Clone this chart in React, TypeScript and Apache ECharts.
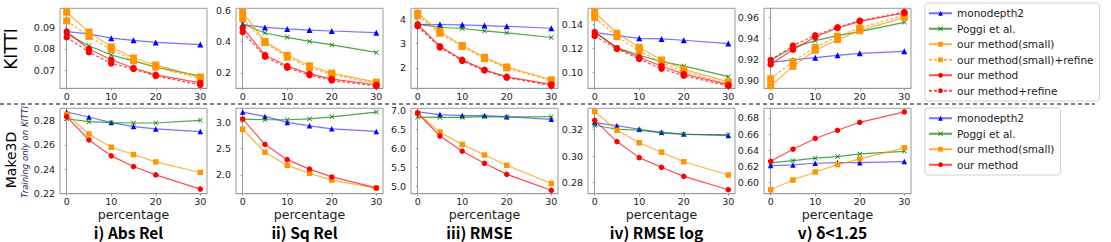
import React, { useEffect, useRef } from "react";
import * as echarts from "echarts";

const percentages = [0, 5, 10, 15, 20, 30];
const metricTitles = ["i) Abs Rel", "ii) Sq Rel", "iii) RMSE", "iv) RMSE log", "v) δ<1.25"];

// KITTI rows: one array per metric (Abs Rel, Sq Rel, RMSE, RMSE log, δ<1.25)
const kittiMonodepth2 = [
  [0.088, 0.087, 0.085, 0.084, 0.083, 0.082],
  [0.51, 0.492, 0.482, 0.475, 0.469, 0.458],
  [3.79, 3.78, 3.77, 3.74, 3.71, 3.63],
  [0.1333, 0.1306, 0.1283, 0.1278, 0.1267, 0.1239],
  [0.9171, 0.9194, 0.9216, 0.9238, 0.9257, 0.9276],
];
const kittiPoggi = [
  [0.087, 0.0815, 0.0772, 0.0745, 0.0716, 0.0674],
  [0.514, 0.456, 0.428, 0.402, 0.379, 0.331],
  [3.79, 3.67, 3.62, 3.52, 3.44, 3.25],
  [0.1333, 0.1206, 0.1142, 0.1089, 0.1053, 0.0964],
  [0.9194, 0.931, 0.9378, 0.9425, 0.9463, 0.9552],
];
const kittiSmall = [
  [0.097, 0.0878, 0.081, 0.0758, 0.0726, 0.067],
  [0.589, 0.402, 0.312, 0.245, 0.198, 0.14],
  [4.25, 3.49, 2.92, 2.44, 2.04, 1.51],
  [0.15, 0.1325, 0.1208, 0.1103, 0.1025, 0.092],
  [0.8949, 0.9133, 0.9286, 0.9387, 0.9473, 0.96],
];
const kittiSmallRefine = [
  [0.093, 0.0858, 0.0797, 0.0746, 0.0716, 0.0662],
  [0.55, 0.394, 0.3, 0.234, 0.189, 0.131],
  [4.15, 3.42, 2.88, 2.38, 2.0, 1.47],
  [0.1456, 0.1297, 0.118, 0.108, 0.1006, 0.0903],
  [0.9016, 0.9178, 0.9314, 0.9419, 0.9498, 0.9622],
];
const kittiOurs = [
  [0.088, 0.08, 0.075, 0.0712, 0.068, 0.0643],
  [0.49, 0.314, 0.243, 0.194, 0.159, 0.123],
  [3.79, 2.89, 2.33, 1.92, 1.63, 1.32],
  [0.1336, 0.12, 0.1125, 0.1053, 0.0986, 0.0897],
  [0.9152, 0.9292, 0.9413, 0.9498, 0.9562, 0.9641],
];
const kittiOursRefine = [
  [0.0854, 0.0785, 0.0733, 0.0707, 0.0675, 0.0634],
  [0.462, 0.303, 0.232, 0.185, 0.15, 0.114],
  [3.71, 2.84, 2.29, 1.89, 1.6, 1.27],
  [0.1303, 0.1194, 0.1111, 0.103, 0.0972, 0.0886],
  [0.9194, 0.933, 0.9429, 0.9505, 0.9568, 0.965],
];

// Make3D rows
const make3dMonodepth2 = [
  [0.2871, 0.283, 0.2784, 0.2751, 0.2732, 0.271],
  [3.197, 3.115, 3.0, 2.936, 2.879, 2.828],
  [6.956, 6.885, 6.859, 6.86, 6.83, 6.76],
  [0.3253, 0.323, 0.3203, 0.318, 0.3167, 0.3155],
  [0.6208, 0.6216, 0.6237, 0.6245, 0.6245, 0.6258],
];
const make3dPoggi = [
  [0.2816, 0.2792, 0.2784, 0.2781, 0.2781, 0.2803],
  [3.064, 3.051, 3.051, 3.07, 3.108, 3.197],
  [6.82, 6.81, 6.81, 6.83, 6.82, 6.83],
  [0.3233, 0.3203, 0.3197, 0.3175, 0.3165, 0.3162],
  [0.6241, 0.627, 0.63, 0.632, 0.6353, 0.6386],
];
const make3dSmall = [
  [0.2852, 0.269, 0.2581, 0.2521, 0.246, 0.2373],
  [2.87, 2.43, 2.18, 2.03, 1.9, 1.745],
  [6.92, 6.42, 6.1, 5.82, 5.55, 5.07],
  [0.3336, 0.3195, 0.3101, 0.303, 0.2958, 0.2858],
  [0.5909, 0.6029, 0.6129, 0.6221, 0.6292, 0.6429],
];
const make3dOurs = [
  [0.2833, 0.2641, 0.251, 0.2422, 0.2353, 0.2236],
  [3.064, 2.58, 2.29, 2.11, 1.96, 1.75],
  [6.92, 6.32, 5.92, 5.6, 5.31, 4.89],
  [0.327, 0.311, 0.2989, 0.2916, 0.2848, 0.2747],
  [0.6262, 0.6412, 0.6545, 0.6647, 0.6746, 0.6875],
];

// axis ranges and ticks
const kittiYMin = [0.0618, 0.1, 1.16, 0.0867, 0.8924];
const kittiYMax = [0.0988, 0.615, 4.45, 0.1533, 0.9686];
const kittiYTicks = [
  [0.07, 0.08, 0.09],
  [0.2, 0.4, 0.6],
  [2, 3, 4],
  [0.1, 0.12, 0.14],
  [0.9, 0.92, 0.94, 0.96],
];
const kittiYDecimals = [2, 1, 0, 2, 2];
const make3dYMin = [0.2198, 1.64, 4.8, 0.2717, 0.5859];
const make3dYMax = [0.2902, 3.27, 7.05, 0.3361, 0.692];
const make3dYTicks = [
  [0.22, 0.24, 0.26, 0.28],
  [2.0, 2.5, 3.0],
  [5.0, 5.5, 6.0, 6.5, 7.0],
  [0.28, 0.3, 0.32],
  [0.6, 0.62, 0.64, 0.66, 0.68],
];
const make3dYDecimals = [2, 1, 1, 2, 2];
const xTicks = [0, 10, 20, 30];

const BLUE = "#0000ff";
const GREEN = "#008000";
const ORANGE = "#ff9500";
const RED = "#ff0000";
const X_SYMBOL = "path://M1,0L5,4L9,0L10,1L6,5L10,9L9,10L5,6L1,10L0,9L4,5L0,1Z";

const panelLefts = [60, 236, 411, 588, 764];
const panelWidth = 147;

export default function App() {
  const ref = useRef<HTMLDivElement>(null);
  useEffect(() => {
    if (!ref.current) return;
    const chart = echarts.init(ref.current, null, { renderer: "svg" });

    const grids: any[] = [];
    const xAxes: any[] = [];
    const yAxes: any[] = [];
    const series: any[] = [];

    const axisLine = { show: true, lineStyle: { color: "#999", width: 1 } };
    const tickLabel = { fontFamily: "DejaVu Sans", fontSize: 9.5, color: "#222" };

    const addPanel = (row: number, col: number) => {
      const idx = grids.length;
      const top = row === 0 ? 8.3 : 108.3;
      const height = row === 0 ? 80 : 85.4;
      grids.push({
        left: panelLefts[col],
        top,
        width: panelWidth,
        height,
        show: true,
        borderColor: "#999",
        borderWidth: 1,
        backgroundColor: "transparent",
      });
      xAxes.push({
        type: "value",
        gridIndex: idx,
        min: -1.5,
        max: 31.5,
        axisLine,
        splitLine: { show: false },
        axisTick: { show: true, length: 2, lineStyle: { color: "#999" }, customValues: xTicks },
        axisLabel: { ...tickLabel, margin: 3, customValues: xTicks },
        name: row === 1 ? "percentage" : "",
        nameLocation: "middle",
        nameGap: 9,
        nameTextStyle: {
          fontFamily: "DejaVu Sans",
          fontSize: 12.6,
          color: "#222",
          verticalAlign: "top",
          lineHeight: 13,
        },
      });
      const yMin = row === 0 ? kittiYMin[col] : make3dYMin[col];
      const yMax = row === 0 ? kittiYMax[col] : make3dYMax[col];
      const ticks = row === 0 ? kittiYTicks[col] : make3dYTicks[col];
      const dec = row === 0 ? kittiYDecimals[col] : make3dYDecimals[col];
      yAxes.push({
        type: "value",
        gridIndex: idx,
        min: yMin,
        max: yMax,
        axisLine,
        splitLine: { show: false },
        axisTick: { show: true, length: 2, lineStyle: { color: "#999" }, customValues: ticks },
        axisLabel: {
          ...tickLabel,
          margin: 5,
          customValues: ticks,
          formatter: (v: number) => v.toFixed(dec),
        },
      });

      const defs =
        row === 0
          ? [
              { name: "monodepth2", d: kittiMonodepth2, color: BLUE, symbol: "triangle", size: 6, dash: "solid", lo: 0.55 },
              { name: "Poggi et al.", d: kittiPoggi, color: GREEN, symbol: X_SYMBOL, size: 5, dash: "solid", lo: 0.7 },
              { name: "our method(small)", d: kittiSmall, color: ORANGE, symbol: "rect", size: 7, dash: "solid", lo: 0.75 },
              { name: "our method(small)+refine", d: kittiSmallRefine, color: ORANGE, symbol: "rect", size: 7, dash: [3, 2], lo: 0.75 },
              { name: "our method", d: kittiOurs, color: RED, symbol: "circle", size: 6.5, dash: "solid", lo: 0.7 },
              { name: "our method+refine", d: kittiOursRefine, color: RED, symbol: "circle", size: 6.5, dash: [3, 2], lo: 0.7 },
            ]
          : [
              { name: "monodepth2", d: make3dMonodepth2, color: BLUE, symbol: "triangle", size: 5.5, dash: "solid", lo: 0.55 },
              { name: "Poggi et al.", d: make3dPoggi, color: GREEN, symbol: X_SYMBOL, size: 5, dash: "solid", lo: 0.7 },
              { name: "our method(small)", d: make3dSmall, color: ORANGE, symbol: "rect", size: 5.5, dash: "solid", lo: 0.75 },
              { name: "our method", d: make3dOurs, color: RED, symbol: "circle", size: 5.5, dash: "solid", lo: 0.7 },
            ];
      defs.forEach((s) => {
        series.push({
          type: "line",
          name: s.name,
          xAxisIndex: idx,
          yAxisIndex: idx,
          data: percentages.map((p, i) => [p, s.d[col][i]]),
          symbol: s.symbol,
          symbolSize: s.size,
          showAllSymbol: true,
          lineStyle: { color: s.color, width: 1.2, type: s.dash, opacity: s.lo },
          itemStyle: { color: s.color, borderWidth: 0 },
          emphasis: { disabled: true },
        });
      });
    };

    for (let r = 0; r < 2; r++) for (let c = 0; c < 5; c++) addPanel(r, c);

    const legendBase = {
      orient: "vertical",
      itemWidth: 23,
      itemHeight: 6,
      itemGap: 3,
      padding: [4, 6, 4, 3],
      borderColor: "#d0d0d0",
      borderWidth: 1,
      borderRadius: 3,
      backgroundColor: "#fff",
      textStyle: { fontFamily: "DejaVu Sans", fontSize: 10.5, color: "#222", lineHeight: 12.5 },
      selectedMode: false,
    };

    const graphics: any[] = [
      {
        type: "line",
        shape: { x1: 0, y1: 104, x2: 1095, y2: 104 },
        style: { stroke: "#000", lineWidth: 1, lineDash: [4, 3] },
      },
      {
        type: "text",
        x: 11,
        y: 49,
        rotation: Math.PI / 2,
        style: { text: "KITTI", font: "17px 'DejaVu Sans'", fill: "#000", align: "center", verticalAlign: "middle" },
      },
      {
        type: "text",
        x: 11,
        y: 160,
        rotation: Math.PI / 2,
        style: { text: "Make3D", font: "14px 'DejaVu Sans'", fill: "#000", align: "center", verticalAlign: "middle" },
      },
      {
        type: "text",
        x: 25,
        y: 152,
        rotation: Math.PI / 2,
        style: {
          text: "Training only on KITTI",
          font: "italic 8.5px 'DejaVu Sans'",
          fill: "#1c1c60",
          align: "center",
          verticalAlign: "middle",
        },
      },
    ];
    metricTitles.forEach((t, i) => {
      graphics.push({
        type: "text",
        x: panelLefts[i] + panelWidth / 2 - 5,
        y: 232,
        style: {
          text: t,
          font: "bold 15.5px 'Noto Sans CJK JP'",
          lineHeight: 15.5,
          fill: "#000",
          align: "center",
          verticalAlign: "middle",
        },
      });
    });

    chart.setOption({
      animation: false,
      backgroundColor: "#fff",
      grid: grids,
      xAxis: xAxes,
      yAxis: yAxes,
      series,
      legend: [
        {
          ...legendBase,
          left: 925,
          top: 3,
          data: [
            "monodepth2",
            "Poggi et al.",
            "our method(small)",
            "our method(small)+refine",
            "our method",
            "our method+refine",
          ],
        },
        {
          ...legendBase,
          left: 925,
          top: 108,
          data: ["monodepth2", "Poggi et al.", "our method(small)", "our method"],
        },
      ],
      graphic: graphics,
    });
    return () => chart.dispose();
  }, []);
  return (
    <div
      ref={ref}
      style={{ position: "fixed", left: 0, top: 0, width: 1111, height: 242, background: "#fff" }}
    />
  );
}
